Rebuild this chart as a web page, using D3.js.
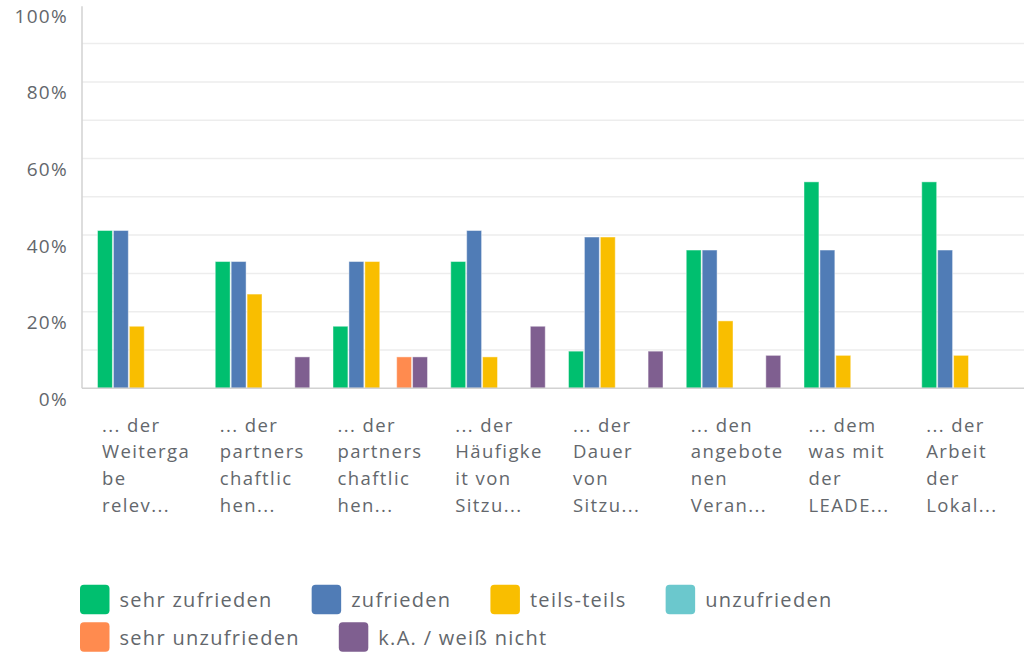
<!DOCTYPE html>
<html>
<head>
<meta charset="utf-8">
<title>Zufriedenheit</title>
<script src="https://d3js.org/d3.v7.min.js"></script>
<style>
  body { margin: 0; background: #fff; }
  text { font-family: "Open Sans", sans-serif; fill: #63676c; }
</style>
</head>
<body>
<div id="chart"></div>
<script>
// x labels, already wrapped and cut as in the survey export
var categories = [
  ["... der", "Weiterga", "be", "relev..."],
  ["... der", "partners", "chaftlic", "hen..."],
  ["... der", "partners", "chaftlic", "hen..."],
  ["... der", "Häufigke", "it von", "Sitzu..."],
  ["... der", "Dauer", "von", "Sitzu..."],
  ["... den", "angebote", "nen", "Veran..."],
  ["... dem", "was mit", "der", "LEADE..."],
  ["... der", "Arbeit", "der", "Lokal..."]
];
var series = ["sehr zufrieden", "zufrieden", "teils-teils", "unzufrieden", "sehr unzufrieden", "k.A. / weiß nicht"];
var colors = ["#00bf6f", "#507cb6", "#f9be00", "#6bc8cd", "#ff8b4f", "#7f5f90"];

// percent values per answer, one entry per category
var sehrZufrieden   = [41.2, 33.1, 16.2, 33.1,  9.7, 36.1, 53.9, 53.9];
var zufrieden       = [41.2, 33.1, 33.1, 41.2, 39.5, 36.1, 36.1, 36.1];
var teilsTeils      = [16.2, 24.6, 33.1,  8.2, 39.5, 17.6,  8.6,  8.6];
var unzufrieden     = [0, 0, 0, 0, 0, 0, 0, 0];
var sehrUnzufrieden = [0, 0, 8.2, 0, 0, 0, 0, 0];
var weissNicht      = [0, 8.2, 8.2, 16.2, 9.7, 8.6, 0, 0];

var yTicks = [0, 20, 40, 60, 80, 100];
var gridTicks = [10, 20, 30, 40, 50, 60, 70, 80, 90];

var width = 1026, height = 652;
var plotLeft = 82, plotRight = 1024, plotTop = 5.3, plotBottom = 388.3;

var values = [sehrZufrieden, zufrieden, teilsTeils, unzufrieden, sehrUnzufrieden, weissNicht];

var svg = d3.select("#chart").append("svg")
    .attr("width", width)
    .attr("height", height);

var x0 = d3.scaleBand()
    .domain(d3.range(categories.length))
    .range([plotLeft, plotRight]);

var x1 = d3.scaleBand()
    .domain(d3.range(series.length))
    .range([15, 110.5]);

var y = d3.scaleLinear()
    .domain([0, 100])
    .range([plotBottom, plotTop]);

// grid lines
svg.append("g")
    .selectAll("line")
    .data(gridTicks)
    .join("line")
    .attr("x1", plotLeft)
    .attr("x2", plotRight)
    .attr("y1", d => y(d))
    .attr("y2", d => y(d))
    .attr("stroke", "#ededed")
    .attr("stroke-width", 1.5);

// y axis labels
var yAxis = d3.axisLeft(y)
    .tickValues(yTicks)
    .tickFormat(d => d + "%")
    .tickSize(0)
    .tickPadding(14);

var gy = svg.append("g")
    .attr("transform", "translate(" + plotLeft + ",0)")
    .call(yAxis);
gy.select(".domain").remove();
gy.selectAll("text")
    .attr("dy", "0.34em")
    .attr("y", 10.5)
    .style("font-size", "19px")
    .style("letter-spacing", "1.3px")
    .attr("fill", "#63676c");

// bars
var groups = svg.append("g")
    .selectAll("g")
    .data(categories)
    .join("g")
    .attr("transform", (d, i) => "translate(" + x0(i) + ",0)");

groups.selectAll("rect")
    .data((d, i) => values.map((v, s) => ({ s: s, v: v[i] })))
    .join("rect")
    .filter(d => d.v > 0)
    .attr("x", d => x1(d.s) + 0.5)
    .attr("y", d => y(d.v))
    .attr("width", x1.bandwidth() - 1)
    .attr("height", d => y(0) - y(d.v))
    .attr("fill", d => colors[d.s])
    .attr("stroke", "#ffffff")
    .attr("stroke-opacity", 0.45)
    .attr("stroke-width", 1);

// axis lines
svg.append("line")
    .attr("x1", plotLeft).attr("x2", plotLeft)
    .attr("y1", plotTop + 1).attr("y2", plotBottom)
    .attr("stroke", "#d2d2d2").attr("stroke-width", 1.5);
svg.append("line")
    .attr("x1", plotLeft).attr("x2", plotRight)
    .attr("y1", plotBottom).attr("y2", plotBottom)
    .attr("stroke", "#d2d2d2").attr("stroke-width", 1.5);

// x labels
var xl = svg.append("g")
    .selectAll("text")
    .data(categories)
    .join("text")
    .attr("x", (d, i) => x0(i) + 20)
    .attr("y", 431.7)
    .style("font-size", "18.5px")
    .style("letter-spacing", "1.4px");
xl.selectAll("tspan")
    .data(d => d)
    .join("tspan")
    .attr("x", function () { return this.parentNode.getAttribute("x"); })
    .attr("dy", (d, i) => i == 0 ? 0 : 26.7)
    .text(d => d);

// legend, flowing into rows
var legend = svg.append("g");
var lx = 80, ly = 584.7, box = 29.5, maxX = 1010;
series.forEach(function (name, i) {
    var item = legend.append("g");
    item.append("rect")
        .attr("width", box).attr("height", box)
        .attr("rx", 4)
        .attr("fill", colors[i]);
    var t = item.append("text")
        .attr("x", box + 10)
        .attr("y", 22.5)
        .style("font-size", "20px")
        .style("letter-spacing", "1.3px")
        .text(name);
    var w = box + 10 + t.node().getComputedTextLength();
    if (lx > 80 && lx + w > maxX) {
        lx = 80;
        ly += 37.6;
    }
    item.attr("transform", "translate(" + lx + "," + ly + ")");
    lx += w + 39;
});
</script>
</body>
</html>
